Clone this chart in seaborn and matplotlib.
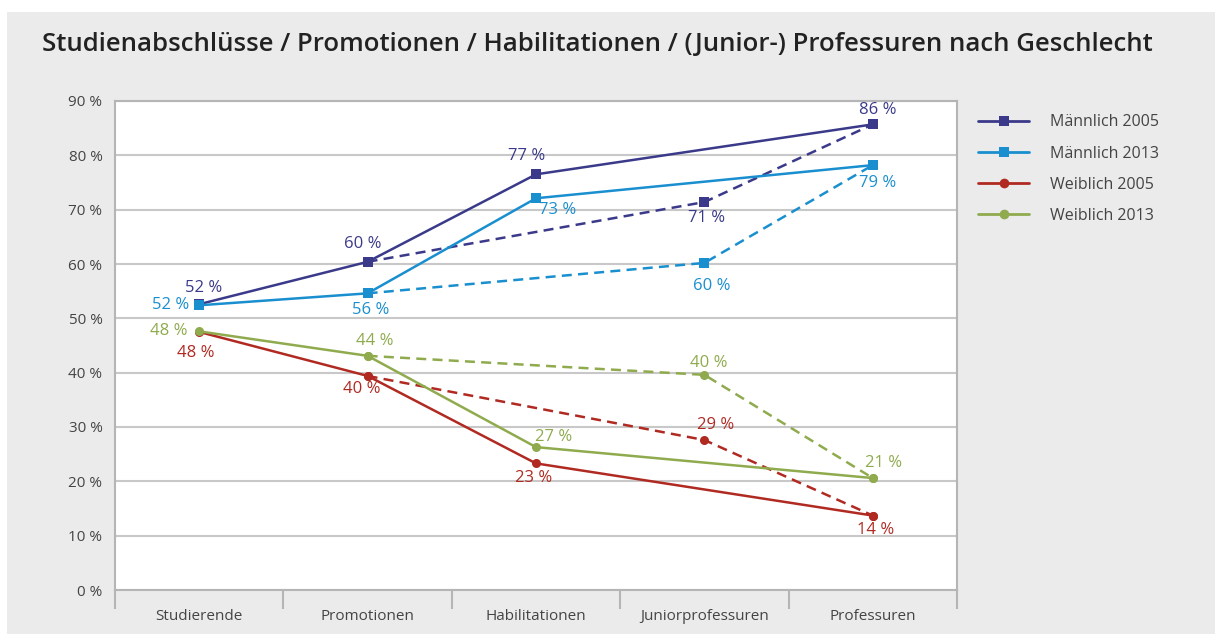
import matplotlib
matplotlib.use("Agg")
import matplotlib.pyplot as plt
import seaborn as sns
import numpy as np
from matplotlib.lines import Line2D
from matplotlib.patches import Rectangle

# categories and series
categories = ["Studierende", "Promotionen", "Habilitationen", "Juniorprofessuren", "Professuren"]
maennlich_2005 = [52.6, 60.4, 76.5, 71.4, 85.7]
maennlich_2013 = [52.4, 54.6, 72.1, 60.2, 78.2]
weiblich_2005 = [47.5, 39.4, 23.3, 27.6, 13.7]
weiblich_2013 = [47.6, 43.1, 26.3, 39.6, 20.6]

# printed labels
labels_m2005 = ["52 %", "60 %", "77 %", "71 %", "86 %"]
labels_m2013 = ["52 %", "56 %", "73 %", "60 %", "79 %"]
labels_w2005 = ["48 %", "40 %", "23 %", "29 %", "14 %"]
labels_w2013 = ["48 %", "44 %", "27 %", "40 %", "21 %"]

series_names = ["Männlich 2005", "Männlich 2013", "Weiblich 2005", "Weiblich 2013"]
y_ticks = [0, 10, 20, 30, 40, 50, 60, 70, 80, 90]

# solid path skips the junior professorships, dashed path goes through them
solid_idx = [0, 1, 2, 4]
dashed_idx = [1, 3, 4]

colors = ["#3b3a8a", "#1a8fcf", "#b02a22", "#8fab4e"]
markers = ["s", "s", "o", "o"]

# label offsets in pixels (dx, dy), per series and point
offsets = [
    [(4, 16), (-5, 18), (-9, 18), (2, -16), (5, 14)],
    [(-29, 0), (3, -17), (22, -12), (7, -23), (5, -18)],
    [(-3, -21), (-6, -13), (-2, -15), (11, 15), (3, -14)],
    [(-30, 0), (7, 15), (18, 10), (4, 12), (11, 15)],
]

sns.set_theme(style="white")
plt.rcParams["font.family"] = ["Open Sans", "DejaVu Sans"]

fig = plt.figure(figsize=(12.15, 6.34), dpi=100, facecolor="white")
fig.patches.append(Rectangle((7 / 1215, 0), 1, (634 - 12) / 634, transform=fig.transFigure,
                             facecolor="#ebebeb", edgecolor="none", zorder=-10))

ax = fig.add_axes([115 / 1215, 44 / 634, 842 / 1215, 489 / 634])
ax.set_facecolor("white")

x = np.arange(len(categories))
all_series = [maennlich_2005, maennlich_2013, weiblich_2005, weiblich_2013]
all_labels = [labels_m2005, labels_m2013, labels_w2005, labels_w2013]

for s, vals in enumerate(all_series):
    vals = np.array(vals)
    sns.lineplot(x=x[solid_idx], y=vals[solid_idx], ax=ax, color=colors[s], lw=1.8,
                 marker=markers[s], markersize=6.5, markeredgewidth=0, sort=False, zorder=3)
    sns.lineplot(x=x[dashed_idx], y=vals[dashed_idx], ax=ax, color=colors[s], lw=1.8,
                 linestyle=(0, (4, 2.5)), marker=markers[s], markersize=6.5,
                 markeredgewidth=0, sort=False, zorder=3)
    for i, v in enumerate(vals):
        dx, dy = offsets[s][i]
        ax.annotate(all_labels[s][i], (x[i], v), xytext=(dx, dy), textcoords="offset pixels",
                    ha="center", va="center", fontsize=12, color=colors[s], zorder=4)

ax.set_xlim(-0.5, len(categories) - 0.5)
ax.set_ylim(0, 90)
ax.set_yticks(y_ticks)
ax.set_yticklabels([f"{t} %" for t in y_ticks], fontsize=11, color="#444444")
ax.yaxis.grid(True, color="#c8c8c8", lw=1.5)
ax.tick_params(axis="y", length=0, pad=9)

ax.set_xticks(x)
ax.set_xticklabels(categories, fontsize=11, color="#444444")
ax.set_xticks(np.arange(-0.5, len(categories)), minor=True)
ax.tick_params(axis="x", which="major", length=0, pad=14)
ax.tick_params(axis="x", which="minor", bottom=True, length=14, width=1.5,
               color="#b5b5b5", direction="out")
for side, sp in ax.spines.items():
    sp.set_visible(True)
    sp.set_color("#b5b5b5")
    sp.set_linewidth(1.5)
ax.set_xlabel("")
ax.set_ylabel("")

handles = [Line2D([0], [0], color=colors[s], lw=2, marker=markers[s], markersize=7,
                  markeredgewidth=0) for s in range(4)]
fig.legend(handles, series_names, loc="upper left", bbox_to_anchor=(964 / 1215, 1 - 100 / 634),
           frameon=False, fontsize=11.5, handlelength=3.2, handletextpad=1.3,
           labelspacing=0.95, labelcolor="#444444")

fig.text(42 / 1215, 1 - 45 / 634, "Studienabschlüsse / Promotionen / Habilitationen / (Junior-) Professuren nach Geschlecht",
         fontsize=18.5, fontweight="semibold", color="#222222", va="center", ha="left")

fig.savefig("out.png", dpi=100, facecolor=fig.get_facecolor())
